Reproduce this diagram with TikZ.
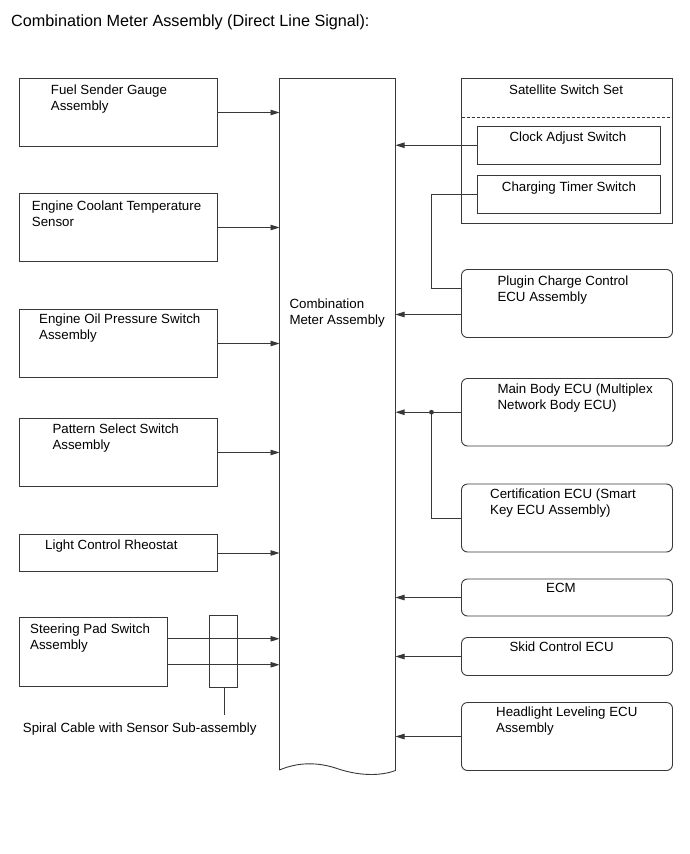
\documentclass[tikz,border=0pt]{standalone}
\usepackage{fontspec}
\setmainfont{Liberation Sans}
\usetikzlibrary{arrows.meta}
\definecolor{ln}{gray}{0.22}
\tikzset{
  box/.style={draw=ln, line width=0.9pt, rectangle, inner sep=0pt},
  rbox/.style={box, rounded corners=6pt},
  lbl/.style={anchor=north west, inner sep=0pt, align=left, font={\fontsize{13.3}{16}\selectfont}},
  arr/.style={draw=ln, line width=0.9pt, -{Triangle[length=9pt,width=5.5pt]}},
  wire/.style={draw=ln, line width=0.9pt},
}
\begin{document}
\begin{tikzpicture}[x=1pt,y=-1pt]
\useasboundingbox (0,0) rectangle (690,854);
% title
\node[lbl, font={\fontsize{16.2}{19}\selectfont}] (title) at (11,15) {Combination Meter Assembly (Direct Line Signal):};

% central box
\coordinate (cmL) at (279.5,0);
\coordinate (cmR) at (395.5,0);
\draw[wire] (279.5,770) -- (279.5,78.5) -- (395.5,78.5) -- (395.5,770.5)
  .. controls (378,777) and (356,775) .. (337,768.5)
  .. controls (318,762) and (298,762) .. (279.5,770);
\node[lbl] (cmt) at (289.3,298.3) {Combination\\Meter Assembly};

% left boxes
\node[box, minimum width=198pt, minimum height=68pt] (fuel) at (118.5,112.5) {};
\node[box, minimum width=198pt, minimum height=68pt] (ect) at (118.5,227.5) {};
\node[box, minimum width=198pt, minimum height=68pt] (oil) at (118.5,343.5) {};
\node[box, minimum width=198pt, minimum height=68pt] (pat) at (118.5,452.5) {};
\node[box, minimum width=198pt, minimum height=37pt] (light) at (118.5,553) {};
\node[box, minimum width=148pt, minimum height=68.5pt] (steer) at (93.5,651.75) {};
\node[box, minimum width=28pt, minimum height=71.5pt] (spiral) at (223.5,651.25) {};

\node[lbl] (fuelt) at (50.7,85) {Fuel Sender Gauge\\Assembly};
\node[lbl] (ectt) at (31.7,200.7) {Engine Coolant Temperature\\Sensor};
\node[lbl] (oilt) at (39,313.3) {Engine Oil Pressure Switch\\Assembly};
\node[lbl] (patt) at (52.3,424) {Pattern Select Switch\\Assembly};
\node[lbl] (lightt) at (45,539.3) {Light Control Rheostat};
\node[lbl] (steert) at (30,623.3) {Steering Pad Switch\\Assembly};
\node[lbl] (spiralt) at (22.7,722.7) {Spiral Cable with Sensor Sub-assembly};

\draw[arr] (fuel.east) -- (fuel.east -| cmL);
\draw[arr] (ect.east) -- (ect.east -| cmL);
\draw[arr] (oil.east) -- (oil.east -| cmL);
\draw[arr] (pat.east) -- (pat.east -| cmL);
\draw[arr] (light.east) -- (light.east -| cmL);
\coordinate (s1) at ([yshift=13pt]steer.east);
\coordinate (s2) at ([yshift=-13pt]steer.east);
\draw[arr] (s1) -- (s1 -| cmL);
\draw[arr] (s2) -- (s2 -| cmL);
\coordinate (spl) at (224.5,714.5);
\draw[wire] (spl |- spiral.south) -- (spl);

% right side
\node[box, minimum width=211pt, minimum height=145pt] (sat) at (567,151) {};
\draw[draw=ln, line width=0.6pt, dash pattern=on 3pt off 2pt] (461.5,117.3) -- (672.5,117.3);
\node[box, minimum width=183pt, minimum height=38.5pt] (clock) at (569,145.25) {};
\node[box, minimum width=183pt, minimum height=38.5pt] (charge) at (569,194.25) {};
\node[rbox, minimum width=211pt, minimum height=68pt] (plugin) at (567,303.5) {};
\node[rbox, minimum width=211pt, minimum height=67.5pt] (main) at (567,412.25) {};
\node[rbox, minimum width=211pt, minimum height=68pt] (cert) at (567,518) {};
\node[rbox, minimum width=211pt, minimum height=37pt] (ecm) at (567,597.5) {};
\node[rbox, minimum width=211pt, minimum height=38pt] (skid) at (567,656.5) {};
\node[rbox, minimum width=211pt, minimum height=68pt] (head) at (567,736.5) {};

\node[lbl] (satt) at (509,85) {Satellite Switch Set};
\node[lbl] (clockt) at (509.3,132) {Clock Adjust Switch};
\node[lbl] (charget) at (501.7,182) {Charging Timer Switch};
\node[lbl] (plugint) at (497.3,276) {Plugin Charge Control\\ECU Assembly};
\node[lbl] (maint) at (497.3,383.3) {Main Body ECU (Multiplex\\Network Body ECU)};
\node[lbl] (certt) at (490,488.3) {Certification ECU (Smart\\Key ECU Assembly)};
\node[lbl] (ecmt) at (546,583.3) {ECM};
\node[lbl] (skidt) at (509.3,641.7) {Skid Control ECU};
\node[lbl] (headt) at (496,706.7) {Headlight Leveling ECU\\Assembly};

\coordinate (bus) at (431.5,0);
\draw[arr] (clock.west) -- (clock.west -| cmR);
\coordinate (pin) at ([yshift=15pt]plugin.west);
\draw[wire] (charge.west) -| (pin -| bus) -- (pin);
\coordinate (pout) at ([yshift=-11pt]plugin.west);
\draw[arr] (pout) -- (pout -| cmR);
\draw[arr] (main.west) -- (main.west -| cmR);
\fill[ln] (main.west -| bus) circle (2.4pt);
\draw[wire] (cert.west) -| (main.west -| bus);
\draw[arr] (ecm.west) -- (ecm.west -| cmR);
\draw[arr] (skid.west) -- (skid.west -| cmR);
\draw[arr] (head.west) -- (head.west -| cmR);
\end{tikzpicture}
\end{document}
